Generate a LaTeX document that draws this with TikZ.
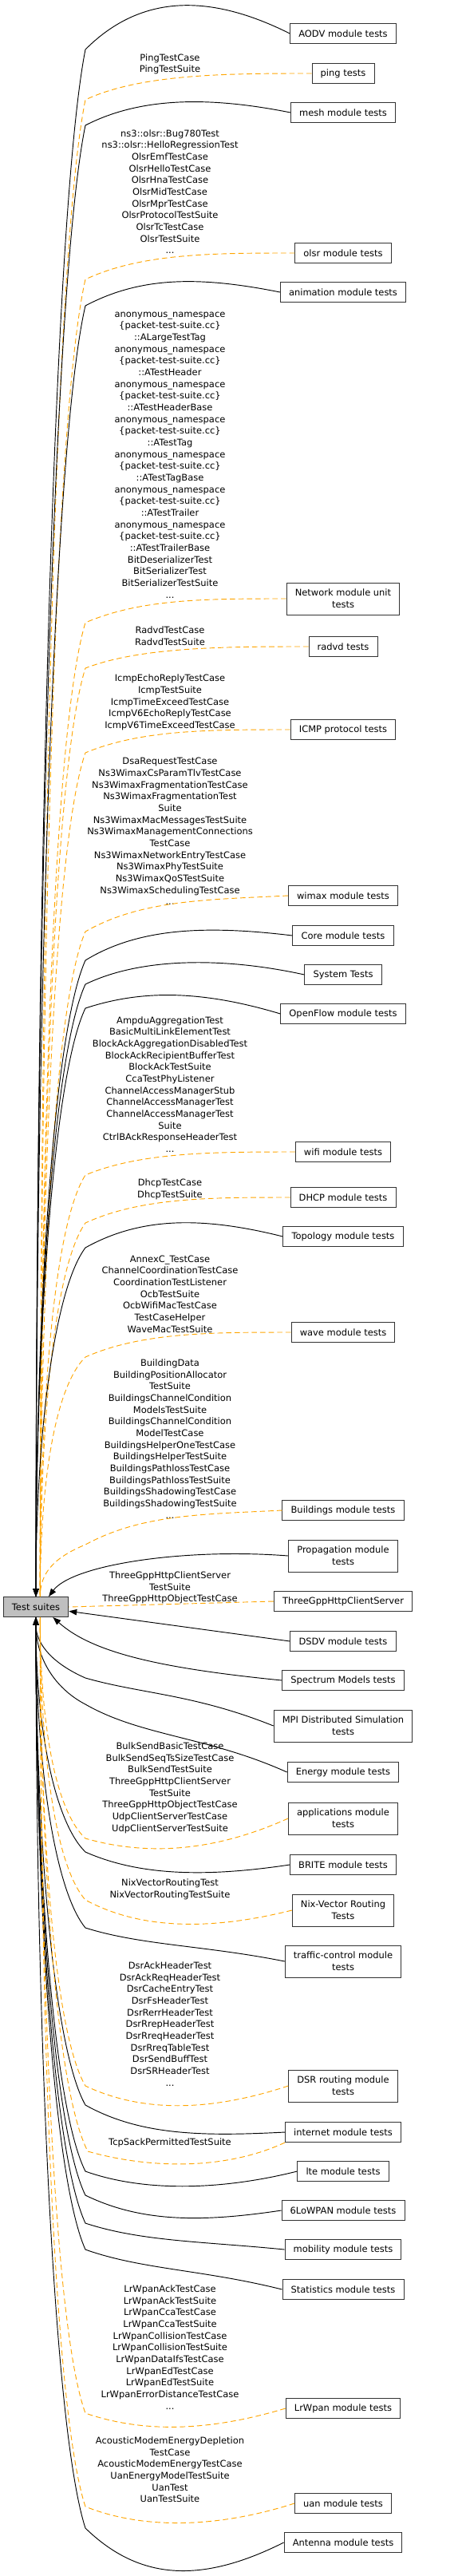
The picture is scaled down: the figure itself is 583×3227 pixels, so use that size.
\documentclass[tikz,border=0pt]{standalone}
\usepackage{fontspec}
\setmainfont{DejaVu Sans}
\usepackage{tikz}
\usetikzlibrary{arrows.meta}
\definecolor{dashorange}{HTML}{FFA500}
\newcommand{\gvfont}{\fontsize{8.6pt}{11pt}\selectfont}

\begin{document}
\begin{tikzpicture}[x=0.75pt,y=-0.75pt,
  box/.style={draw=black!80,line width=0.7pt,fill=white,font=\gvfont,align=center,
    inner xsep=8pt,inner ysep=2pt,minimum height=18.75pt},
  tall/.style={minimum height=30pt},
  suite/.style={box,fill=black!25},
  classes/.style={font=\gvfont,align=center,inner sep=0pt},
  member/.style={line width=0.7pt,-{Triangle[length=7.5pt,width=5.5pt]}},
  shared/.style={draw=dashorange,line width=0.7pt,dash pattern=on 5pt off 3pt}]

  \useasboundingbox (0,0) rectangle (583,3227);

  % The group
  \node[suite] (ts) at (45,2013) {Test suites};

  % Sub groups
  \node[box] (aodv) at (430,42) {AODV module tests};
  \node[box] (ping) at (430,92) {ping tests};
  \node[box] (mesh) at (430,141) {mesh module tests};
  \node[box] (olsr) at (430,317) {olsr module tests};
  \node[box] (anim) at (430,366) {animation module tests};
  \node[box,tall] (netw) at (430,750) {Network module unit\\tests};
  \node[box] (radvd) at (430,810) {radvd tests};
  \node[box] (icmp) at (430,914) {ICMP protocol tests};
  \node[box] (wimax) at (430,1122) {wimax module tests};
  \node[box] (core) at (430,1172) {Core module tests};
  \node[box] (sys) at (430,1221) {System Tests};
  \node[box] (oflow) at (430,1270) {OpenFlow module tests};
  \node[box] (wifi) at (430,1443) {wifi module tests};
  \node[box] (dhcp) at (430,1500) {DHCP module tests};
  \node[box] (topo) at (430,1549) {Topology module tests};
  \node[box] (wave) at (430,1669) {wave module tests};
  \node[box] (bldg) at (430,1892) {Buildings module tests};
  \node[box,tall] (prop) at (430,1949) {Propagation module\\tests};
  \node[box] (tgpp) at (430,2006) {ThreeGppHttpClientServer};
  \node[box] (dsdv) at (430,2056) {DSDV module tests};
  \node[box] (spec) at (430,2105) {Spectrum Models tests};
  \node[box,tall] (mpi) at (430,2162) {MPI Distributed Simulation\\tests};
  \node[box] (energy) at (430,2220) {Energy module tests};
  \node[box,tall] (apps) at (430,2278) {applications module\\tests};
  \node[box] (brite) at (430,2336) {BRITE module tests};
  \node[box,tall] (nix) at (430,2393) {Nix-Vector Routing\\Tests};
  \node[box,tall] (tc) at (430,2457) {traffic-control module\\tests};
  \node[box,tall] (dsr) at (430,2613) {DSR routing module\\tests};
  \node[box] (inet) at (430,2671) {internet module tests};
  \node[box] (lte) at (430,2720) {lte module tests};
  \node[box] (lowpan) at (430,2769) {6LoWPAN module tests};
  \node[box] (mob) at (430,2818) {mobility module tests};
  \node[box] (stats) at (430,2868) {Statistics module tests};
  \node[box] (lrwpan) at (430,3017) {LrWpan module tests};
  \node[box] (uan) at (430,3136) {uan module tests};
  \node[box] (ant) at (430,3185) {Antenna module tests};

  % Class lists on the shared edges
  \node[classes] (lping) at (213,80.5) {PingTestCase\\PingTestSuite};
  \node[classes] (lolsr) at (213,240) {ns3::olsr::Bug780Test\\ns3::olsr::HelloRegressionTest\\OlsrEmfTestCase\\OlsrHelloTestCase\\OlsrHnaTestCase\\OlsrMidTestCase\\OlsrMprTestCase\\OlsrProtocolTestSuite\\OlsrTcTestCase\\OlsrTestSuite\\...};
  \node[classes] (lnetw) at (213,570) {anonymous\_namespace\\\{packet-test-suite.cc\}\\::ALargeTestTag\\anonymous\_namespace\\\{packet-test-suite.cc\}\\::ATestHeader\\anonymous\_namespace\\\{packet-test-suite.cc\}\\::ATestHeaderBase\\anonymous\_namespace\\\{packet-test-suite.cc\}\\::ATestTag\\anonymous\_namespace\\\{packet-test-suite.cc\}\\::ATestTagBase\\anonymous\_namespace\\\{packet-test-suite.cc\}\\::ATestTrailer\\anonymous\_namespace\\\{packet-test-suite.cc\}\\::ATestTrailerBase\\BitDeserializerTest\\BitSerializerTest\\BitSerializerTestSuite\\...};
  \node[classes] (lradvd) at (213,797) {RadvdTestCase\\RadvdTestSuite};
  \node[classes] (licmp) at (213,880) {IcmpEchoReplyTestCase\\IcmpTestSuite\\IcmpTimeExceedTestCase\\IcmpV6EchoReplyTestCase\\IcmpV6TimeExceedTestCase};
  \node[classes] (lwimax) at (213,1041.5) {DsaRequestTestCase\\Ns3WimaxCsParamTlvTestCase\\Ns3WimaxFragmentationTestCase\\Ns3WimaxFragmentationTest\\Suite\\Ns3WimaxMacMessagesTestSuite\\Ns3WimaxManagementConnections\\TestCase\\Ns3WimaxNetworkEntryTestCase\\Ns3WimaxPhyTestSuite\\Ns3WimaxQoSTestSuite\\Ns3WimaxSchedulingTestCase\\...};
  \node[classes] (lwifi) at (213,1358.5) {AmpduAggregationTest\\BasicMultiLinkElementTest\\BlockAckAggregationDisabledTest\\BlockAckRecipientBufferTest\\BlockAckTestSuite\\CcaTestPhyListener\\ChannelAccessManagerStub\\ChannelAccessManagerTest\\ChannelAccessManagerTest\\Suite\\CtrlBAckResponseHeaderTest\\...};
  \node[classes] (ldhcp) at (213,1490) {DhcpTestCase\\DhcpTestSuite};
  \node[classes] (lwave) at (213,1621) {AnnexC\_TestCase\\ChannelCoordinationTestCase\\CoordinationTestListener\\OcbTestSuite\\OcbWifiMacTestCase\\TestCaseHelper\\WaveMacTestSuite};
  \node[classes] (lbldg) at (213,1802.5) {BuildingData\\BuildingPositionAllocator\\TestSuite\\BuildingsChannelCondition\\ModelsTestSuite\\BuildingsChannelCondition\\ModelTestCase\\BuildingsHelperOneTestCase\\BuildingsHelperTestSuite\\BuildingsPathlossTestCase\\BuildingsPathlossTestSuite\\BuildingsShadowingTestCase\\BuildingsShadowingTestSuite\\...};
  \node[classes] (ltgpp) at (213,1989) {ThreeGppHttpClientServer\\TestSuite\\ThreeGppHttpObjectTestCase};
  \node[classes] (lapps) at (213,2239.5) {BulkSendBasicTestCase\\BulkSendSeqTsSizeTestCase\\BulkSendTestSuite\\ThreeGppHttpClientServer\\TestSuite\\ThreeGppHttpObjectTestCase\\UdpClientServerTestCase\\UdpClientServerTestSuite};
  \node[classes] (lnix) at (213,2367) {NixVectorRoutingTest\\NixVectorRoutingTestSuite};
  \node[classes] (ldsr) at (213,2535.5) {DsrAckHeaderTest\\DsrAckReqHeaderTest\\DsrCacheEntryTest\\DsrFsHeaderTest\\DsrRerrHeaderTest\\DsrRrepHeaderTest\\DsrRreqHeaderTest\\DsrRreqTableTest\\DsrSendBuffTest\\DsrSRHeaderTest\\...};
  \node[classes] (ltcp) at (213,2684) {TcpSackPermittedTestSuite};
  \node[classes] (llrwpan) at (213,2940.5) {LrWpanAckTestCase\\LrWpanAckTestSuite\\LrWpanCcaTestCase\\LrWpanCcaTestSuite\\LrWpanCollisionTestCase\\LrWpanCollisionTestSuite\\LrWpanDataIfsTestCase\\LrWpanEdTestCase\\LrWpanEdTestSuite\\LrWpanErrorDistanceTestCase\\...};
  \node[classes] (luan) at (213,3094) {AcousticModemEnergyDepletion\\TestCase\\AcousticModemEnergyTestCase\\UanEnergyModelTestSuite\\UanTest\\UanTestSuite};

  % Edges coming in from above
  \foreach \nd/\yn/\bend/\hump/\sty/\off in {aodv/42/62/-50/member/0, ping/92/125/0/shared/4,
      mesh/141/157/-20/member/0, olsr/317/350/0/shared/4, anim/366/383/-20/member/0,
      netw/750/780/0/shared/4, radvd/810/837/0/shared/4, icmp/914/943/0/shared/4,
      wimax/1122/1167/5/shared/4, core/1172/1203/-12/member/0, sys/1221/1233/-22/member/0,
      oflow/1270/1263/-30/member/0, wifi/1443/1472/0/shared/4, dhcp/1500/1532/0/shared/4,
      topo/1549/1563/-25/member/0, wave/1669/1700/0/shared/4, bldg/1892/1935/5/shared/4} {
    \pgfmathsetmacro\cy{\yn+\hump-\bend}
    \pgfmathsetmacro\ca{0.1*(2000-\bend)+10}
    \pgfmathsetmacro\cb{0.45*(2000-\bend)}
    \draw[\sty] (\nd.west) .. controls +(-100,\hump) and +(70,\cy) .. (107,\bend)
      .. controls +(-40,\ca) and +(0,-\cb) .. ([xshift=\off pt]ts.north);
  }

  % Edges coming in from below
  \foreach \nd/\yn/\bend/\hump/\sty/\off in {mpi/2162/2102/-40/member/0, energy/2220/2135/-45/member/0,
      apps/2278/2303/45/shared/4, brite/2336/2320/15/member/0, nix/2393/2380/25/shared/4,
      tc/2457/2415/-20/member/0, dsr/2613/2613/33/shared/4, inet/2671/2637/5/member/0,
      lte/2720/2720/25/member/0, lowpan/2769/2750/15/member/0, mob/2818/2785/-10/member/0,
      stats/2868/2818/-25/member/0, lrwpan/3017/3023/30/shared/4, uan/3136/3140/32/shared/4,
      ant/3185/3167/50/member/0} {
    \pgfmathsetmacro\cy{\yn+\hump-\bend}
    \pgfmathsetmacro\ca{0.1*(\bend-2026)+10}
    \pgfmathsetmacro\cb{0.45*(\bend-2026)}
    \draw[\sty] (\nd.west) .. controls +(-100,\hump) and +(70,\cy) .. (107,\bend)
      .. controls +(-40,-\ca) and +(0,\cb) .. ([xshift=\off pt]ts.south);
  }

  % Edges close to the group
  \draw[member] (prop.west) .. controls +(-130,-10) and +(30,-40) .. ([xshift=12pt]ts.north);
  \draw[shared] (tgpp.west) -- (ts.east);
  \draw[member] (dsdv.west) -- ([yshift=-4pt]ts.east);
  \draw[member] (spec.west) .. controls +(-150,-15) and +(50,45) .. ([xshift=16pt]ts.south);
  \draw[shared] (inet.south west) .. controls +(-80,37) and +(70,20) .. (110,2695)
    .. controls +(-40,-77) and +(0,300) .. ([xshift=4pt]ts.south);
\end{tikzpicture}
\end{document}
